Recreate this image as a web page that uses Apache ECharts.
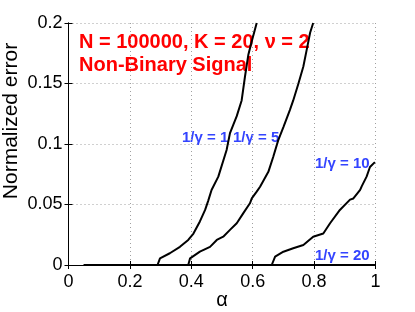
<!DOCTYPE html>
<html><head><meta charset="utf-8">
<script src="https://cdn.jsdelivr.net/npm/echarts@6/dist/echarts.min.js"></script>
<style>html,body{margin:0;padding:0;background:#fff}#c{width:415px;height:312px}</style>
</head><body><div id="c"></div>
<script>
const xTicks = [0, 0.2, 0.4, 0.6, 0.8, 1];
const yTicks = [0, 0.05, 0.1, 0.15, 0.2];
const alpha1 = [0.05, 0.29, 0.298, 0.33, 0.363, 0.39, 0.407, 0.428, 0.445, 0.455, 0.466, 0.488, 0.515, 0.526, 0.537, 0.548, 0.564, 0.575, 0.586, 0.597, 0.613];
const err1   = [0, 0, 0.0055, 0.0097, 0.015, 0.0207, 0.026, 0.036, 0.0455, 0.053, 0.062, 0.073, 0.095, 0.109, 0.116, 0.123, 0.136, 0.156, 0.174, 0.185, 0.2];
const alpha2 = [0.05, 0.39, 0.396, 0.428, 0.461, 0.483, 0.504, 0.526, 0.548, 0.569, 0.591, 0.597, 0.613, 0.624, 0.651, 0.667, 0.683, 0.7, 0.721, 0.732, 0.749, 0.765, 0.776, 0.787, 0.797];
const err2   = [0, 0, 0.0055, 0.011, 0.015, 0.0207, 0.0234, 0.029, 0.0345, 0.0427, 0.051, 0.055, 0.0606, 0.0647, 0.077, 0.0895, 0.103, 0.114, 0.128, 0.136, 0.15, 0.164, 0.178, 0.192, 0.2];
const alpha3 = [0.05, 0.662, 0.673, 0.7, 0.732, 0.765, 0.797, 0.83, 0.852, 0.884, 0.917, 0.928, 0.95, 0.955, 0.971, 0.982, 0.998];
const err3   = [0, 0, 0.0069, 0.011, 0.0138, 0.0165, 0.0234, 0.026, 0.0345, 0.0455, 0.054, 0.055, 0.062, 0.065, 0.073, 0.081, 0.085];
const alpha4 = [0.05, 1];
const err4   = [0, 0];
const seriesNames = ['1/γ = 1', '1/γ = 5', '1/γ = 10', '1/γ = 20'];
const titleLines = ['N = 100000, K = 20, ν = 2', 'Non-Binary Signal'];
const xName = 'α';
const yName = 'Normalized error';

const pairs = (xs, ys) => xs.map((x, i) => [x, ys[i]]);
const FONT = 'Liberation Sans, Arial, Helvetica, sans-serif';
const chart = echarts.init(document.getElementById('c'), null, {renderer: 'canvas'});
const baseAxis = {
  type: 'value',
  axisLine: {show: true, lineStyle: {color: '#000', width: 1}},
  axisTick: {show: true, inside: true, length: 4, lineStyle: {color: '#000'}},
  splitLine: {show: false},
};
const line = (xs, ys, name) => ({
  type: 'line', name, data: pairs(xs, ys), showSymbol: false, symbol: 'none',
  lineStyle: {color: '#000', width: 2}, clip: true, animation: false
});
chart.setOption({
  backgroundColor: '#fff',
  animation: false,
  grid: {left: 68.5, right: 39.5, top: 23, bottom: 47, containLabel: false},
  xAxis: [
    Object.assign({}, baseAxis, {min: xTicks[0], max: xTicks[xTicks.length-1], interval: 0.2,
      axisLabel: {color: '#000', fontSize: 18, fontFamily: FONT, margin: 8},
      splitLine: {show: true, lineStyle: {color: '#a0a0a0', type: [1, 3], width: 1}}}),
    Object.assign({}, baseAxis, {position: 'top', min: 0, max: 1, interval: 0.2, axisLabel: {show: false}})
  ],
  yAxis: [
    Object.assign({}, baseAxis, {min: yTicks[0], max: yTicks[yTicks.length-1], interval: 0.05,
      axisLabel: {color: '#000', fontSize: 18, fontFamily: FONT, margin: 6},
      splitLine: {show: true, lineStyle: {color: '#a0a0a0', type: [1, 3], width: 1}}}),
    Object.assign({}, baseAxis, {position: 'right', min: 0, max: 0.2, interval: 0.05, axisLabel: {show: false}})
  ],
  series: [
    line(alpha1, err1, seriesNames[0]),
    line(alpha2, err2, seriesNames[1]),
    line(alpha3, err3, seriesNames[2]),
    line(alpha4, err4, seriesNames[3])
  ],
  graphic: [
    {type: 'text', x: 79, y: 42, style: {text: titleLines[0], font: 'bold 20px ' + FONT, fill: '#ff0000', verticalAlign: 'middle'}},
    {type: 'text', x: 79, y: 65, style: {text: titleLines[1], font: 'bold 20px ' + FONT, fill: '#ff0000', verticalAlign: 'middle'}},
    {type: 'text', x: 182, y: 138, style: {text: seriesNames[0], font: 'bold 15px ' + FONT, fill: '#3344ff', verticalAlign: 'middle'}},
    {type: 'text', x: 233, y: 138, style: {text: seriesNames[1], font: 'bold 15px ' + FONT, fill: '#3344ff', verticalAlign: 'middle'}},
    {type: 'text', x: 315, y: 164, style: {text: seriesNames[2], font: 'bold 15px ' + FONT, fill: '#3344ff', verticalAlign: 'middle'}},
    {type: 'text', x: 315, y: 256, style: {text: seriesNames[3], font: 'bold 15px ' + FONT, fill: '#3344ff', verticalAlign: 'middle'}},
    {type: 'text', x: 222, y: 300, style: {text: xName, font: '20px ' + FONT, fill: '#000', align: 'center', verticalAlign: 'middle'}},
    {type: 'text', x: 11, y: 121, rotation: Math.PI/2, style: {text: yName, font: '21px ' + FONT, fill: '#000', align: 'center', verticalAlign: 'middle'}}
  ]
});
</script></body></html>
